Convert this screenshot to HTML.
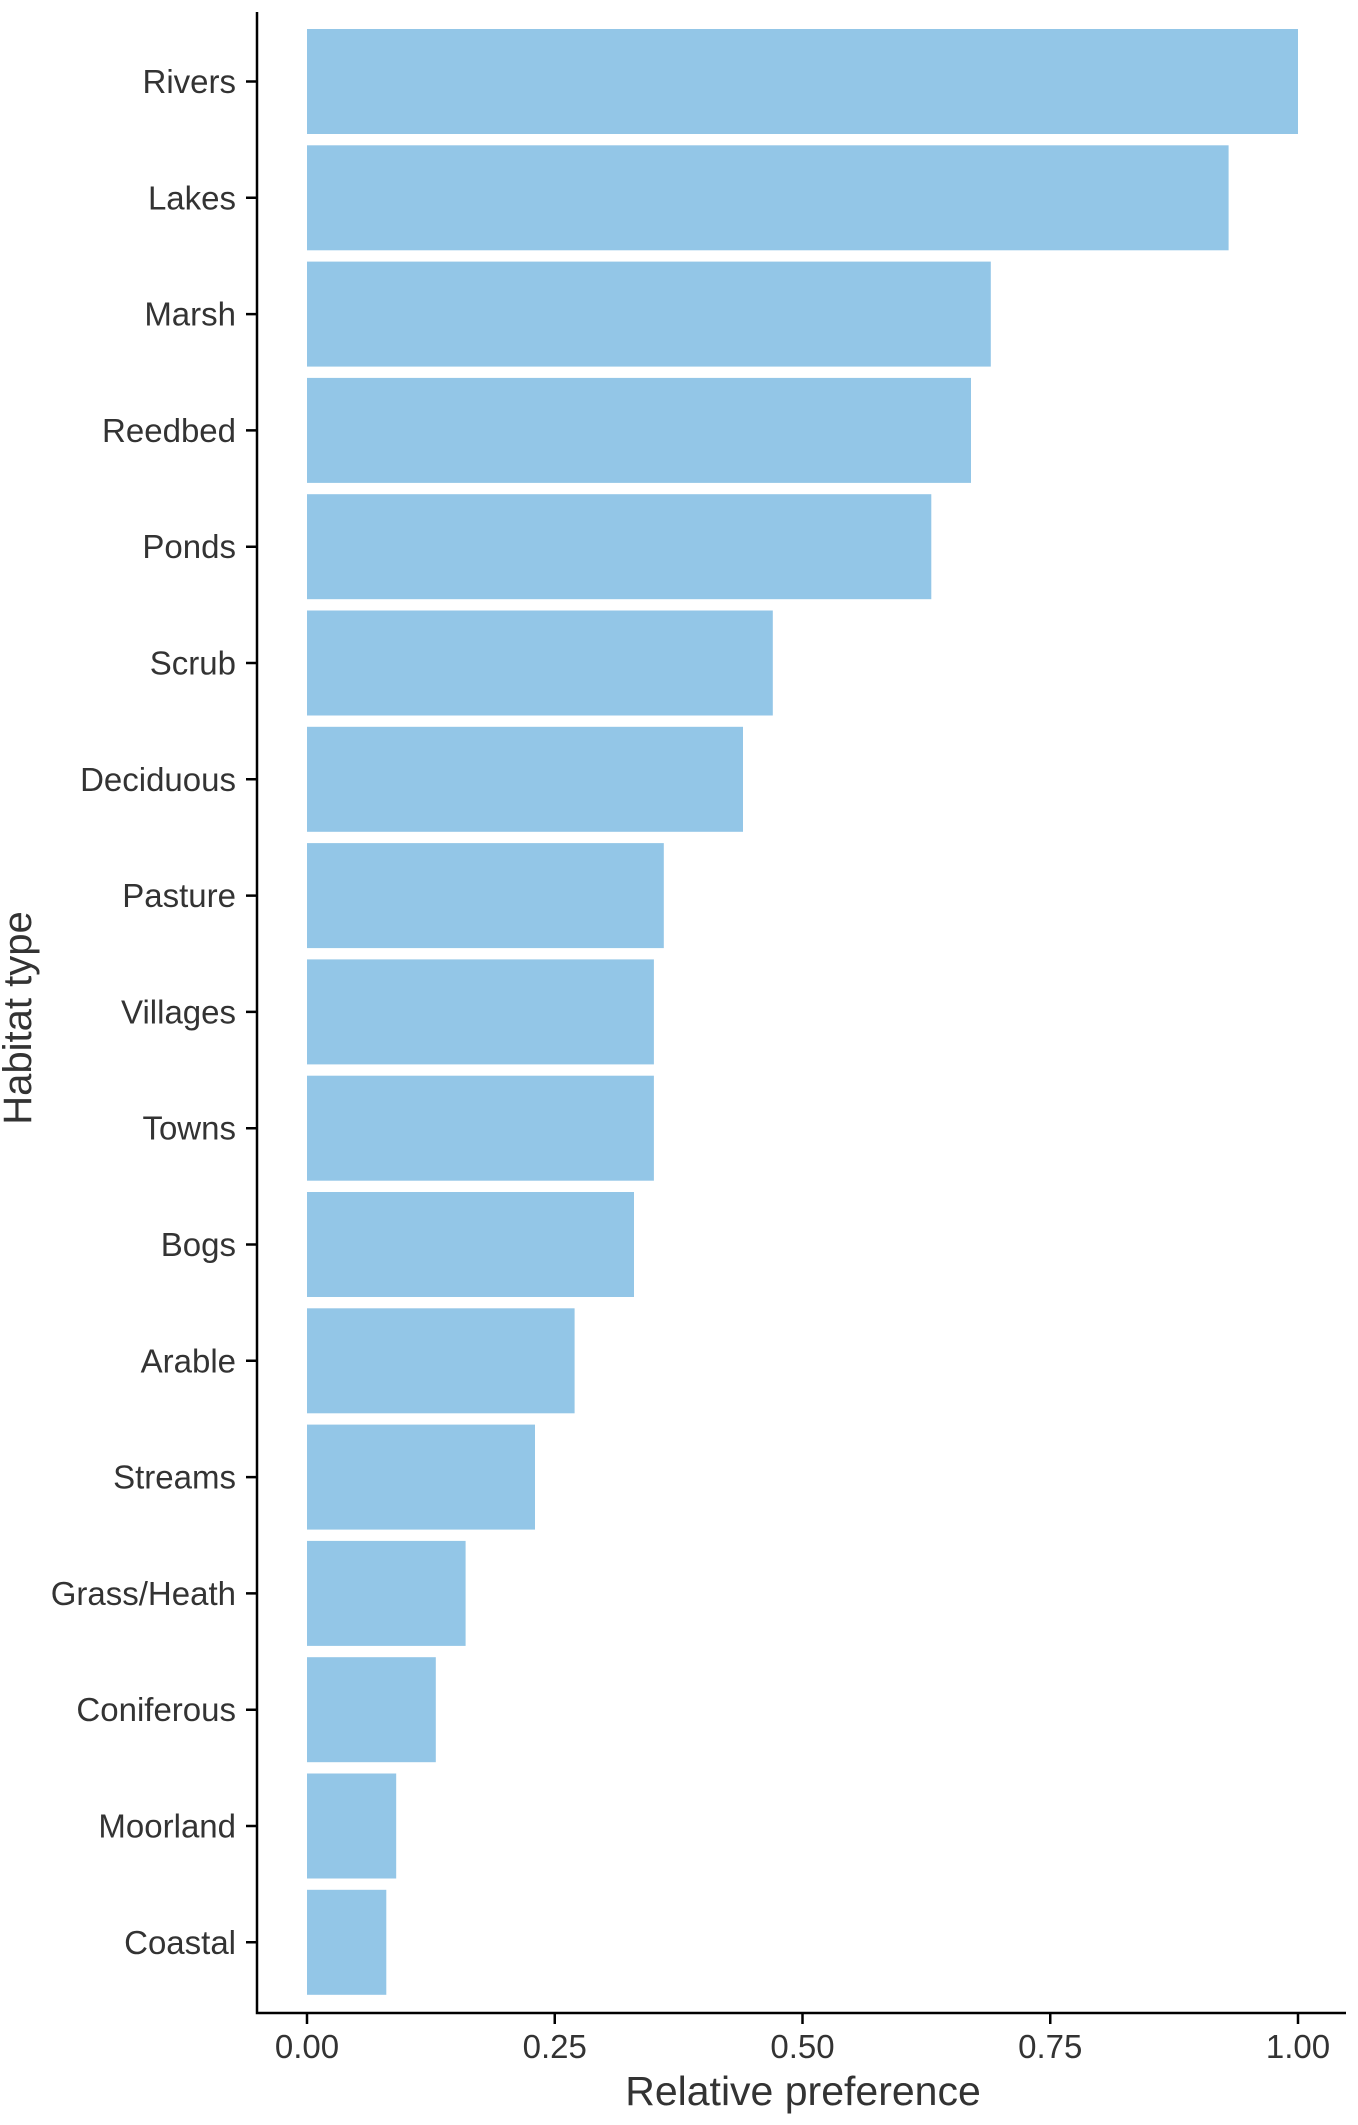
<!DOCTYPE html>
<html><head><meta charset="utf-8"><style>body{margin:0;background:#fff}svg{display:block}</style></head><body>
<svg width="1358" height="2125" xmlns="http://www.w3.org/2000/svg" font-family="Liberation Sans, Arial, sans-serif">
<g fill="#93c6e7">
<rect x="307" y="29" width="991" height="105"/>
<rect x="307" y="145.3" width="921.6" height="105"/>
<rect x="307" y="261.6" width="683.8" height="105"/>
<rect x="307" y="377.9" width="664" height="105"/>
<rect x="307" y="494.2" width="624.3" height="105"/>
<rect x="307" y="610.5" width="465.8" height="105"/>
<rect x="307" y="726.8" width="436" height="105"/>
<rect x="307" y="843.1" width="356.8" height="105"/>
<rect x="307" y="959.4" width="346.9" height="105"/>
<rect x="307" y="1075.7" width="346.9" height="105"/>
<rect x="307" y="1192" width="327" height="105"/>
<rect x="307" y="1308.3" width="267.6" height="105"/>
<rect x="307" y="1424.6" width="228" height="105"/>
<rect x="307" y="1540.9" width="158.6" height="105"/>
<rect x="307" y="1657.2" width="128.8" height="105"/>
<rect x="307" y="1773.5" width="89.2" height="105"/>
<rect x="307" y="1889.8" width="79.3" height="105"/>
</g>
<g stroke="#000" stroke-width="2.5" fill="none">
<path d="M257 12 V2013 H1346"/>
<path d="M246 81.5h11M246 197.8h11M246 314.1h11M246 430.4h11M246 546.7h11M246 663h11M246 779.3h11M246 895.6h11M246 1011.9h11M246 1128.2h11M246 1244.5h11M246 1360.8h11M246 1477.1h11M246 1593.4h11M246 1709.7h11M246 1826h11M246 1942.3h11"/>
<path d="M307 2013v11M554.75 2013v11M802.5 2013v11M1050.25 2013v11M1298 2013v11"/>
</g>
<g fill="#333" font-size="33" text-anchor="end">
<text x="236" y="93">Rivers</text>
<text x="236" y="209.3">Lakes</text>
<text x="236" y="325.6">Marsh</text>
<text x="236" y="441.9">Reedbed</text>
<text x="236" y="558.2">Ponds</text>
<text x="236" y="674.5">Scrub</text>
<text x="236" y="790.8">Deciduous</text>
<text x="236" y="907.1">Pasture</text>
<text x="236" y="1023.4">Villages</text>
<text x="236" y="1139.7">Towns</text>
<text x="236" y="1256">Bogs</text>
<text x="236" y="1372.3">Arable</text>
<text x="236" y="1488.6">Streams</text>
<text x="236" y="1604.9">Grass/Heath</text>
<text x="236" y="1721.2">Coniferous</text>
<text x="236" y="1837.5">Moorland</text>
<text x="236" y="1953.8">Coastal</text>
</g>
<g fill="#333" font-size="33" text-anchor="middle">
<text x="307" y="2058">0.00</text>
<text x="554.75" y="2058">0.25</text>
<text x="802.5" y="2058">0.50</text>
<text x="1050.25" y="2058">0.75</text>
<text x="1298" y="2058">1.00</text>
</g>
<text x="803" y="2105" fill="#333" font-size="41" text-anchor="middle">Relative preference</text>
<text transform="translate(31,1018) rotate(-90)" fill="#333" font-size="40" text-anchor="middle">Habitat type</text>
</svg>
</body></html>
